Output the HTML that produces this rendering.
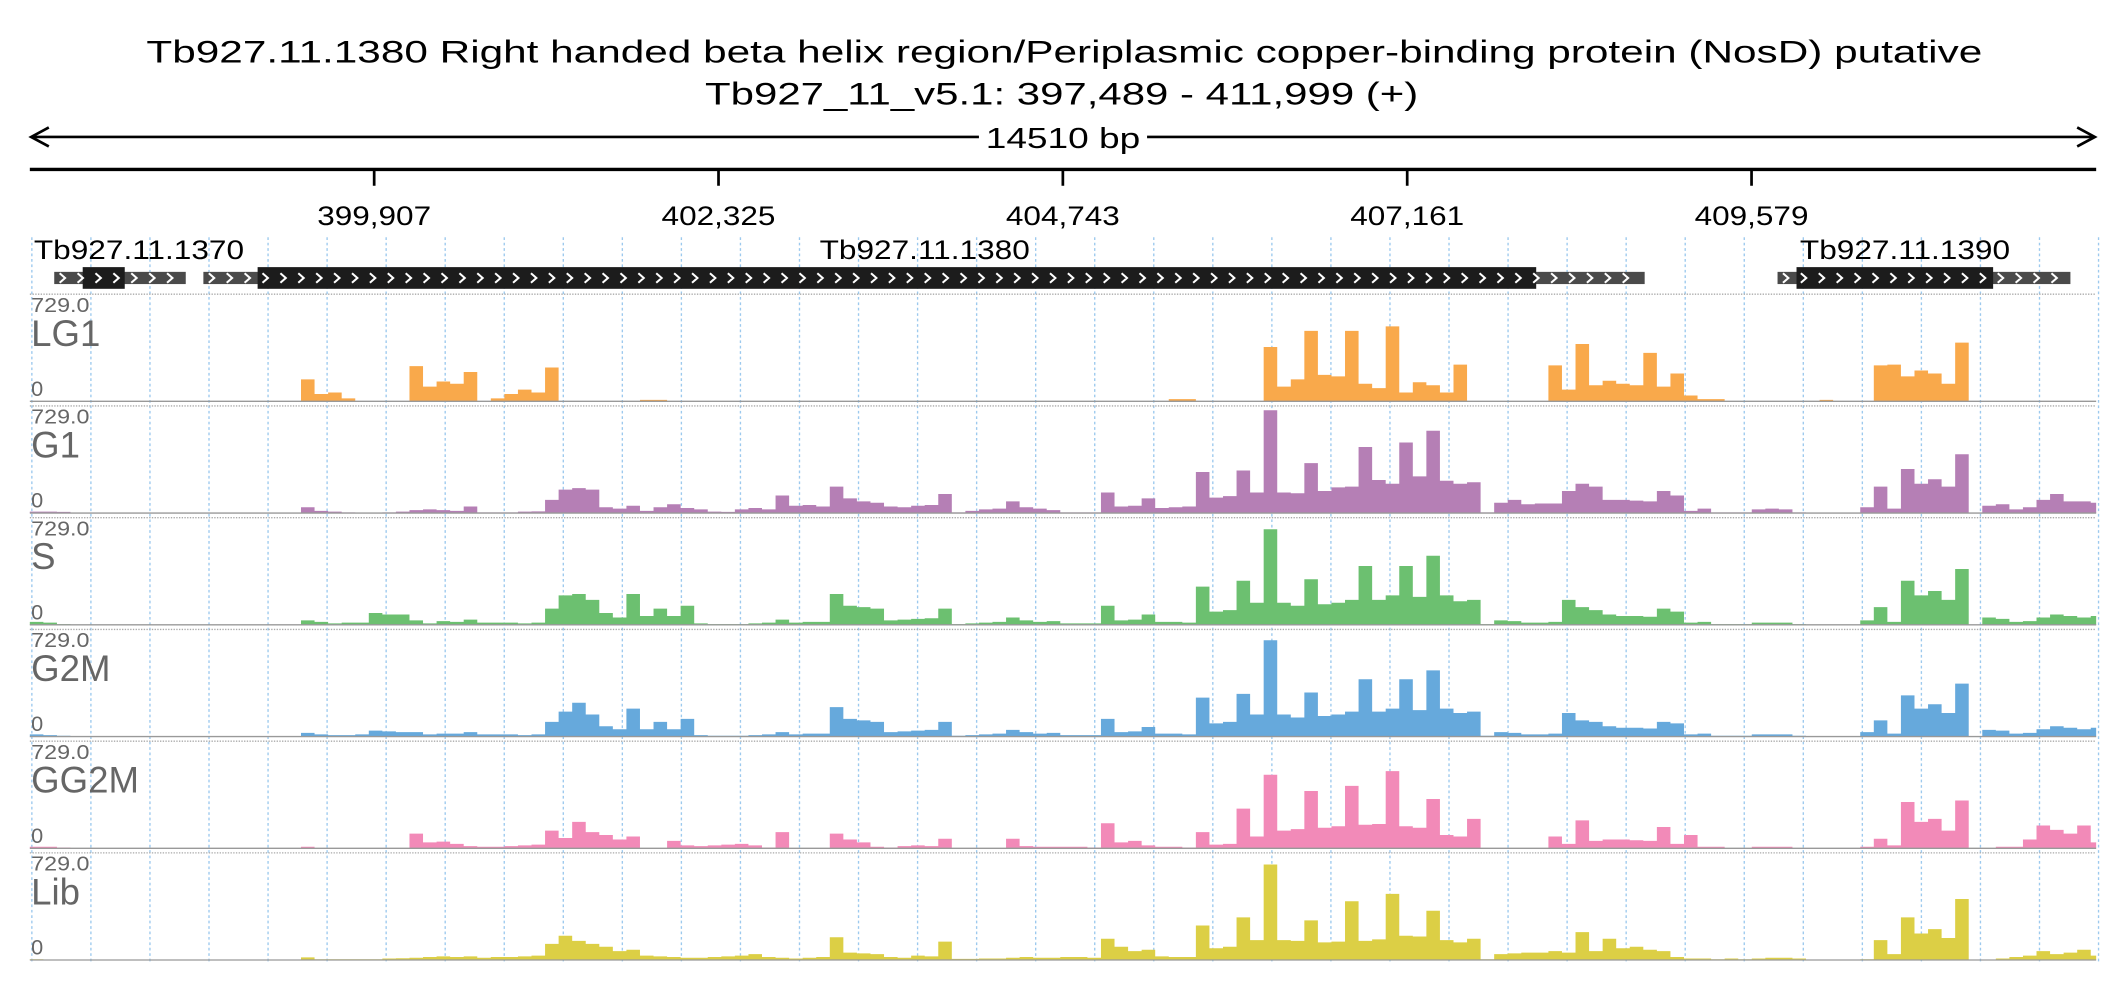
<!DOCTYPE html>
<html><head><meta charset="utf-8"><style>
html,body{margin:0;padding:0;background:#fff;}
svg{display:block;font-family:"Liberation Sans",sans-serif;}
</style></head><body>
<svg id="chart" width="2126" height="1000" viewBox="0 0 1568 737.5" preserveAspectRatio="none" xmlns="http://www.w3.org/2000/svg">
<rect width="1568" height="737.5" fill="#fff"/>
<text x="785" y="46" font-size="23" text-anchor="middle" textLength="1354" lengthAdjust="spacingAndGlyphs" fill="#000">Tb927.11.1380  Right handed beta helix region/Periplasmic copper-binding protein (NosD)  putative</text>
<text x="783" y="77" font-size="23" text-anchor="middle" textLength="526" lengthAdjust="spacingAndGlyphs" fill="#000">Tb927_11_v5.1: 397,489 - 411,999 (+)</text>
<g stroke="#000" stroke-width="2" fill="none">
<line x1="23" y1="101" x2="1545" y2="101"/>
<polyline points="36,94 23,101 36,108"/>
<polyline points="1532,94 1545,101 1532,108"/>
</g>
<rect x="722" y="89" width="124" height="24" fill="#fff"/>
<text x="784" y="109" font-size="21" text-anchor="middle" textLength="114" lengthAdjust="spacingAndGlyphs">14510 bp</text>
<line x1="22" y1="125" x2="1546" y2="125" stroke="#000" stroke-width="2.5"/>
<g id="grid"></g>
<g id="ticks"></g>
<g id="genes"></g>
<g id="tracks"></g>
</svg>
<script>
const tickLabels = ["399,907","402,325","404,743","407,161","409,579"];
const tickPositions = [399907,402325,404743,407161,409579];
const regionStart = 397489, regionEnd = 411999;
const trackNames = ["LG1","G1","S","G2M","GG2M","Lib"];
const trackColors = ["#f9a94b","#b57fb5","#6cc070","#66a9dc","#f28ab8","#dccf45"];
const yMax = 729;
const lg1 = [0,0,0,0,0,0,0,0,0,0,0,0,0,0,0,0,0,0,0,0,150,50,60,20,0,0,0,0,240,100,135,120,200,0,20,50,80,60,230,0,0,0,0,0,0,10,10,0,0,0,0,0,0,0,0,0,0,0,0,0,0,0,0,0,0,0,0,0,0,0,0,0,0,0,0,0,0,0,0,0,0,0,0,0,15,15,0,0,0,0,0,370,100,150,480,180,170,480,120,90,510,60,130,110,60,250,0,0,0,0,0,0,245,80,390,110,140,120,110,330,100,190,40,15,15,0,0,0,0,0,0,0,10,0,0,0,245,250,170,210,190,120,400,0,0,0,0,0,0,0,0,0,0];
const g1 = [10,10,8,0,0,0,0,0,0,0,0,0,0,0,0,0,0,0,0,0,40,15,10,5,3,3,5,10,20,25,20,15,45,5,5,5,10,12,90,160,170,160,40,30,50,15,40,60,35,25,10,8,25,35,25,120,50,55,45,180,100,80,70,45,40,50,55,130,5,15,25,30,80,40,30,20,5,5,5,140,45,50,100,35,40,45,280,105,115,290,140,700,140,135,340,150,175,180,450,225,200,480,250,560,220,200,210,5,70,90,60,65,65,150,200,180,90,90,85,80,150,120,15,30,5,5,5,25,30,25,5,0,0,0,0,40,180,30,300,200,230,180,400,0,50,60,25,40,90,130,80,80,70];
const s = [20,15,5,0,0,0,0,0,0,0,0,0,0,0,0,0,0,0,0,0,30,20,10,15,15,80,70,70,30,10,25,20,35,15,15,15,10,15,110,200,210,170,80,50,210,60,110,60,130,10,5,5,5,10,15,35,15,20,20,210,130,120,110,30,35,40,45,110,5,10,15,20,50,30,20,25,10,10,10,130,30,35,70,20,20,15,260,90,100,300,150,650,150,130,310,140,150,170,400,170,200,400,190,470,200,160,170,5,30,25,15,15,20,170,120,100,70,60,60,55,110,90,15,20,5,5,5,15,15,15,5,0,0,0,0,30,120,20,300,200,230,170,380,0,50,40,20,25,50,70,60,50,60];
const g2m = [15,10,5,0,0,0,0,0,0,0,0,0,0,0,0,0,0,0,0,0,25,15,10,10,15,40,35,30,30,15,20,20,30,15,15,15,10,15,100,170,230,150,70,50,190,50,100,50,120,10,5,5,5,10,15,30,15,20,20,200,120,110,100,30,35,40,45,100,5,10,15,20,45,30,20,25,10,10,10,120,30,35,65,20,20,15,265,90,100,290,150,655,150,130,300,140,150,170,390,170,190,390,180,450,190,160,170,5,30,25,15,15,20,160,110,100,70,60,60,55,100,90,15,20,5,5,5,15,15,15,5,0,0,0,0,30,110,20,280,190,220,160,360,0,45,40,20,25,50,70,60,50,60];
const gg2m = [10,10,5,0,0,0,0,0,0,0,0,0,0,0,0,0,0,0,0,0,10,0,0,0,0,0,0,0,100,40,45,30,15,10,10,15,20,25,120,70,180,110,90,60,80,0,0,50,20,15,20,25,30,20,5,110,0,0,0,100,60,40,10,5,15,20,15,65,0,0,0,0,65,15,10,10,10,10,5,170,40,50,20,10,10,5,110,25,30,270,80,500,120,130,390,140,150,425,160,165,525,150,140,335,90,80,200,0,0,0,0,0,80,30,190,50,60,60,55,50,145,30,90,10,10,0,0,10,10,10,0,0,0,0,0,10,65,20,315,180,200,120,325,0,0,10,10,60,155,125,100,155,40];
const lib = [5,3,0,0,0,0,0,0,0,0,0,0,0,0,0,0,0,0,0,0,18,5,5,5,5,5,10,12,15,20,25,20,25,15,20,20,25,30,110,165,130,110,90,60,70,30,25,20,15,15,20,25,30,40,20,15,10,15,20,155,50,45,40,20,15,30,25,125,8,8,10,10,15,20,15,15,20,20,15,145,90,60,70,25,20,20,235,80,90,290,135,650,135,130,270,120,125,400,130,140,450,165,160,335,135,120,145,5,40,45,50,50,60,50,190,60,145,80,90,70,60,20,10,10,5,10,5,10,15,15,10,0,0,0,0,5,135,40,290,180,210,150,415,0,0,10,20,30,60,40,50,70,30];
const trackData = [lg1,g1,s,g2m,gg2m,lib];

const NS = "http://www.w3.org/2000/svg";
const X0 = 22, X1 = 1546, BIN = 10;
function mk(tag, attrs, parent){const e=document.createElementNS(NS,tag);for(const k in attrs)e.setAttribute(k,attrs[k]);parent.appendChild(e);return e;}
function xGenome(p){return X0 + (p-regionStart)/(regionEnd-regionStart)*(X1-X0);}
function xBin(i){return X0 + i*BIN;}

const grid = document.getElementById('grid');
for(let k=0;k<=35;k++){
  const gx = 23.5 + k*43.55;
  const l = mk('line',{x1:gx,y1:175,x2:gx,y2:711,stroke:'#9cc9ee','stroke-width':1,'stroke-dasharray':'2,2'},grid);
  
  
}

const ticks = document.getElementById('ticks');
tickPositions.forEach((p,i)=>{
  const tx = xGenome(p);
  const l = mk('line',{x1:tx,y1:125,x2:tx,y2:137,stroke:'#000','stroke-width':2},ticks);
  
  
  const t = mk('text',{x:tx,y:166,'font-size':20,'text-anchor':'middle',fill:'#000',textLength:84,lengthAdjust:'spacingAndGlyphs'},ticks);
  t.textContent = tickLabels[i];
  
  
});

const genes = document.getElementById('genes');
const geneNames = ["Tb927.11.1370","Tb927.11.1380","Tb927.11.1390"];
const geneUtr = [[40,137],[150,1213],[1311,1527]];
const geneCds = [[61,92],[190,1133],[1325,1470]];
const geneLabelX = [25,682,1405];
const geneAnchor = ["start","middle","middle"];
geneNames.forEach((n,i)=>{
  const g = mk('g',{},genes);
  
  
  mk('rect',{x:geneUtr[i][0],y:200.5,width:geneUtr[i][1]-geneUtr[i][0],height:9,fill:'#4a4a4a'},g);
  mk('rect',{x:geneCds[i][0],y:197,width:geneCds[i][1]-geneCds[i][0],height:16,fill:'#1c1c1c'},g);
  let path='';
  for(let cx=geneUtr[i][0]+4; cx<geneUtr[i][1]-4; cx+=13.2){path+=`M${cx},201.5 L${cx+4},205 L${cx},208.5 `;}
  mk('path',{d:path,stroke:'#fff','stroke-width':1.5,fill:'none'},g);
  const t = mk('text',{x:geneLabelX[i],y:191,'font-size':20,'text-anchor':geneAnchor[i],fill:'#000',textLength:155,lengthAdjust:'spacingAndGlyphs'},g);
  t.textContent = n;
  
  
});

const tracks = document.getElementById('tracks');
const trackTop0 = 217, trackStep = 82.4, plotH = 79;
trackNames.forEach((name,ti)=>{
  const top = trackTop0 + ti*trackStep;
  const base = top + plotH;
  const g = mk('g',{},tracks);
  
  
  mk('line',{x1:X0,y1:top,x2:X1,y2:top,stroke:'#aaa','stroke-width':1,'stroke-dasharray':'1,1'},g);
  const yS = v => base - v/yMax*plotH;
  let d='';
  trackData[ti].forEach((v,i)=>{
    if(v<=0) return;
    const x0 = xBin(i), x1 = Math.min(xBin(i+1), X1);
    d += `M${x0},${base}V${yS(v)}H${x1}V${base}Z`;
  });
  const p = mk('path',{d:d,fill:trackColors[ti]},g);
  
  
  mk('line',{x1:X0,y1:base,x2:X1,y2:base,stroke:'#999','stroke-width':1},g);
  const mx = mk('text',{x:23,y:top+13,'font-size':15,fill:'#666',textLength:43,lengthAdjust:'spacingAndGlyphs'},g);
  mx.textContent = '729.0';
  
  
  const nm = mk('text',{x:23,y:top+38,'font-size':27,fill:'#666'},g);
  nm.textContent = name;
  
  
  const zr = mk('text',{x:23,y:top+75,'font-size':16,fill:'#666'},g);
  zr.textContent = '0';
  
  
});
</script>
</body></html>
